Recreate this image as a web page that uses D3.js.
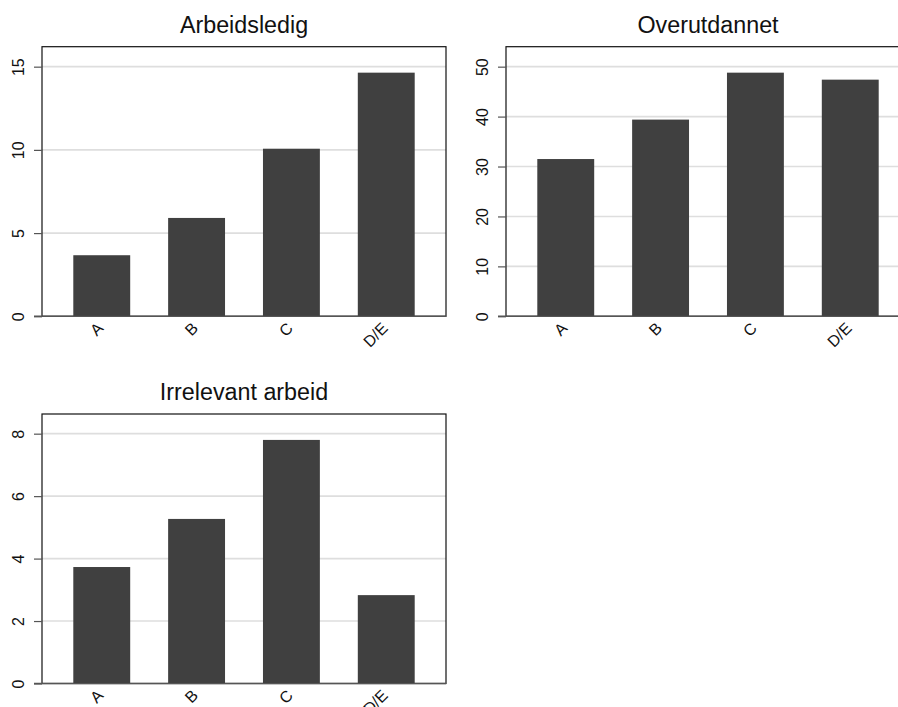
<!DOCTYPE html>
<html><head><meta charset="utf-8">
<script src="https://cdn.jsdelivr.net/npm/d3@7"></script>
<style>
body{margin:0;background:#fff;}
text{font-family:"Liberation Sans",Arial,sans-serif;}
</style></head>
<body><svg id="c" width="898" height="707"></svg>
<script>
const categories = ["A","B","C","D/E"];
const titles = ["Arbeidsledig","Overutdannet","Irrelevant arbeid"];
const arbeidsledig = [3.67, 5.91, 10.07, 14.64];
const overutdannet = [31.5, 39.4, 48.8, 47.4];
const irrelevant = [3.73, 5.27, 7.80, 2.83];
const yTicks1 = [0,5,10,15];
const yTicks2 = [0,10,20,30,40,50];
const yTicks3 = [0,2,4,6,8];
const yMax = [16.2, 54.0, 8.63];

const panels = [
  {title:titles[0], values:arbeidsledig, ticks:yTicks1, max:yMax[0], x0:42, x1:446, y0:46.7, y1:316.3},
  {title:titles[1], values:overutdannet, ticks:yTicks2, max:yMax[1], x0:506, x1:910, y0:46.7, y1:316.3},
  {title:titles[2], values:irrelevant, ticks:yTicks3, max:yMax[2], x0:42, x1:446, y0:414, y1:683.5}
];

const svg = d3.select("#c");
panels.forEach(p=>{
  const g = svg.append("g");
  const x = d3.scaleBand().domain(categories).range([p.x0,p.x1]).paddingInner(0.4).paddingOuter(0.33);
  const y = d3.scaleLinear().domain([0,p.max]).range([p.y1,p.y0]);
  g.selectAll(".grid").data(p.ticks.filter(t=>t>0)).join("line")
    .attr("x1",p.x0).attr("x2",p.x1).attr("y1",d=>y(d)).attr("y2",d=>y(d))
    .attr("stroke","#dedede").attr("stroke-width",1.6);
  g.selectAll(".bar").data(p.values).join("rect")
    .attr("x",(d,i)=>x(categories[i])).attr("width",x.bandwidth())
    .attr("y",d=>y(d)).attr("height",d=>y(0)-y(d)).attr("fill","#404040");
  g.append("rect").attr("x",p.x0).attr("y",p.y0).attr("width",p.x1-p.x0).attr("height",p.y1-p.y0)
    .attr("fill","none").attr("stroke","#111").attr("stroke-width",1.2);
  const ya = g.append("g").attr("transform",`translate(${p.x0},0)`)
    .call(d3.axisLeft(y).tickValues(p.ticks).tickSize(8).tickFormat(d3.format("d")));
  ya.select(".domain").remove();
  ya.selectAll(".tick line").attr("stroke","#555").attr("stroke-width",1.2);
  ya.selectAll(".tick text").attr("font-size",16).attr("fill","#111")
    .attr("text-anchor","middle").attr("transform","rotate(-90)")
    .attr("x",0).attr("y",-18.5).attr("dy",0);
  const xa = g.append("g").attr("transform",`translate(0,${p.y1})`)
    .call(d3.axisBottom(x).tickSize(0).tickPadding(0));
  xa.select(".domain").attr("stroke","#555").attr("stroke-width",1.6).attr("d",`M${p.x0-8},0H${p.x1}`);
  xa.selectAll(".tick text").attr("font-size",16).attr("fill","#111")
    .attr("text-anchor","end").attr("y",0).attr("dy",0)
    .attr("transform","translate(2.5,13) rotate(-45)");
  g.append("text").attr("x",(p.x0+p.x1)/2).attr("y",p.y0-14).attr("text-anchor","middle")
    .attr("font-size",23.3).attr("fill","#111").text(p.title);
});
</script></body></html>
